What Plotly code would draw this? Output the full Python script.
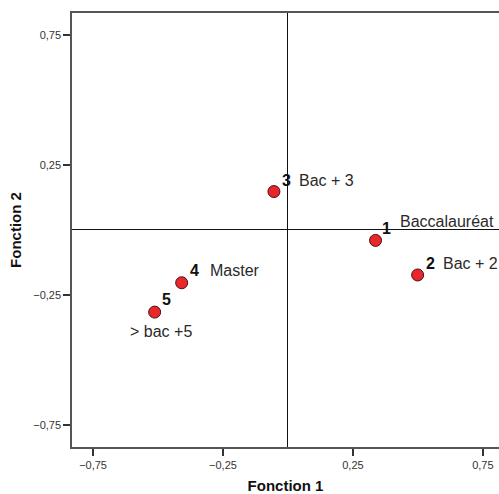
import plotly.graph_objects as go

ids = ["1", "2", "3", "4", "5"]
names = ["Baccalauréat", "Bac + 2", "Bac + 3", "Master", "> bac +5"]
f1 = [0.337, 0.499, -0.054, -0.409, -0.513]
f2 = [-0.041, -0.174, 0.147, -0.204, -0.317]
tickvals = [-0.75, -0.25, 0.25, 0.75]

# label offsets in pixels (number dx, dy ; name dx, dy, anchor)
num_off = [(11, 12), (13, 11), (13, 11), (13, 12), (12, 13)]
name_off = [(22, 19, "left"), (23, 11, "left"), (23, 11, "left"), (26, 12, "left"), (6, -19, "center")]

fig = go.Figure()
fig.add_trace(go.Scatter(
    x=f1, y=f2, mode="markers",
    marker=dict(size=12, color="#E8262C", line=dict(color="#4a1010", width=1)),
    showlegend=False, hoverinfo="skip"))

for i in range(len(ids)):
    dx, dy = num_off[i]
    fig.add_annotation(x=f1[i], y=f2[i], text="<b>" + ids[i] + "</b>", showarrow=False,
                       xshift=dx, yshift=dy, xanchor="center", yanchor="middle",
                       font=dict(family="Liberation Sans, Arial", size=16, color="#111"))
    ndx, ndy, anc = name_off[i]
    fig.add_annotation(x=f1[i], y=f2[i], text=names[i], showarrow=False,
                       xshift=ndx, yshift=ndy, xanchor=anc, yanchor="middle",
                       font=dict(family="Liberation Sans, Arial", size=16, color="#2a2a2a"))

axis_common = dict(
    tickvals=tickvals, tickformat=".2f", ticks="outside", ticklen=7, tickwidth=1.5,
    tickcolor="#333", showgrid=False, showline=True, mirror=True, linecolor="#555",
    linewidth=1.5, zeroline=True, zerolinecolor="#111", zerolinewidth=1, automargin=False,
    tickfont=dict(family="Liberation Sans, Arial", size=11, color="#333"))

fig.update_xaxes(range=[-0.831, 0.812], **axis_common,
                 title=dict(text="<b>Fonction 1</b>", standoff=14,
                            font=dict(family="Liberation Sans, Arial", size=15, color="#111")))
fig.update_yaxes(range=[-0.836, 0.834], **axis_common,
                 title=dict(text="<b>Fonction 2</b>", standoff=8,
                            font=dict(family="Liberation Sans, Arial", size=15, color="#111")))

fig.update_layout(width=499, height=494, margin=dict(l=72, r=0, t=13, b=47),
                  plot_bgcolor="white", paper_bgcolor="white", separators=", ")
fig.write_html("out.html")
